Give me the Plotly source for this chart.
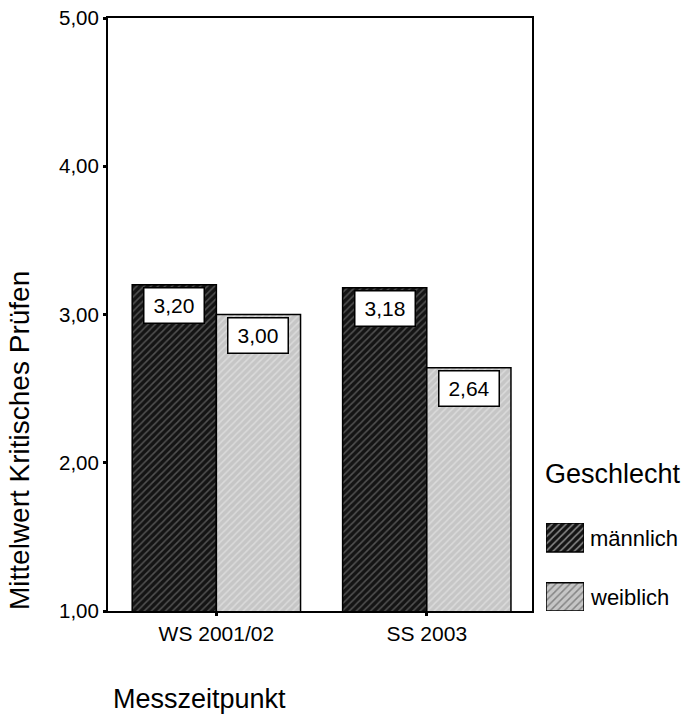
import plotly.graph_objects as go

# Mittelwerte "Kritisches Prüfen" nach Messzeitpunkt und Geschlecht
categories = ["WS 2001/02", "SS 2003"]
maennlich = [3.20, 3.18]
weiblich = [3.00, 2.64]
series_names = ["männlich", "weiblich"]
y_ticks = [1, 2, 3, 4, 5]

FONT = "Liberation Sans, Arial, Helvetica, sans-serif"
W, H = 686, 715
L, T, B = 108, 18, 104
PLOT_W = 424
PLOT_H = H - T - B
AREA_W = W - L


def px_x(p):
    return (p - L) / AREA_W


def px_y(p):
    return (T + PLOT_H - p) / PLOT_H


styles = {
    "männlich": dict(bg="#141414", fg="#8e8e8e"),
    "weiblich": dict(bg="#c6c6c6", fg="#efefef"),
}


def fmt(v):
    return f"{v:.2f}".replace(".", ",")


fig = go.Figure()

for name, vals in zip(series_names, [maennlich, weiblich]):
    st = styles[name]
    fig.add_trace(go.Bar(
        x=categories, y=vals, name=name,
        marker=dict(color=st["bg"], line=dict(color="black", width=1.5),
                    pattern=dict(shape="/", bgcolor=st["bg"], fgcolor=st["fg"],
                                 size=5, solidity=0.3)),
        showlegend=False, hoverinfo="skip",
    ))

# value boxes at the top of each bar
for s_idx, vals in enumerate([maennlich, weiblich]):
    offset = -0.2 if s_idx == 0 else 0.2
    for c_idx, v in enumerate(vals):
        fig.add_annotation(
            x=c_idx + offset, y=v, xref="x", yref="y",
            text=fmt(v), showarrow=False, yanchor="top", yshift=-2,
            font=dict(family=FONT, size=21, color="black"),
            bgcolor="white", bordercolor="black", borderwidth=1.5,
            borderpad=1, width=57, height=32,
        )

# legend swatches drawn as small bars in their own axes
fig.add_trace(go.Bar(
    x=[0.5, 0.5], y=[0.33, 0.32], base=[0.67, 0.0], width=[1, 1],
    xaxis="x2", yaxis="y2",
    marker=dict(color=[styles[n]["bg"] for n in series_names],
                line=dict(color="black", width=1.5),
                pattern=dict(shape="/", size=5, solidity=0.3,
                             bgcolor=[styles[n]["bg"] for n in series_names],
                             fgcolor=[styles[n]["fg"] for n in series_names])),
    showlegend=False, hoverinfo="skip",
))

fig.add_annotation(x=px_x(543), y=px_y(474), xref="paper", yref="paper",
                   text="Geschlecht", showarrow=False, xanchor="left", yanchor="middle",
                   font=dict(family=FONT, size=27, color="black"))
for lbl, yp in zip(series_names, [538, 597]):
    fig.add_annotation(x=px_x(588), y=px_y(yp), xref="paper", yref="paper",
                       text=lbl, showarrow=False, xanchor="left", yanchor="middle",
                       font=dict(family=FONT, size=22, color="black"))

# axis titles
fig.add_annotation(x=px_x(20), y=px_y(441), xref="paper", yref="paper",
                   text="Mittelwert Kritisches Prüfen", textangle=-90, showarrow=False,
                   xanchor="center", yanchor="middle",
                   font=dict(family=FONT, size=28, color="black"))
fig.add_annotation(x=px_x(111), y=px_y(699), xref="paper", yref="paper",
                   text="Messzeitpunkt", showarrow=False, xanchor="left", yanchor="middle",
                   font=dict(family=FONT, size=27, color="black"))

fig.update_layout(
    width=W, height=H,
    margin=dict(l=L, r=0, t=T, b=B, pad=0),
    paper_bgcolor="white", plot_bgcolor="white",
    separators=",.",
    barmode="group", bargap=0.2, bargroupgap=0,
    font=dict(family=FONT, color="black"),
    xaxis=dict(domain=[0, PLOT_W / AREA_W], range=[-0.515, 1.5],
               showline=True, mirror=True, linecolor="black", linewidth=2,
               ticks="outside", ticklen=3, tickwidth=3, tickcolor="black",
               showgrid=False, zeroline=False,
               tickfont=dict(family=FONT, size=21, color="black")),
    yaxis=dict(range=[1, 5], tickvals=y_ticks, tickformat=".2f",
               showline=True, mirror=True, linecolor="black", linewidth=2,
               ticks="outside", ticklen=3, tickwidth=3, tickcolor="black",
               showgrid=False, zeroline=False,
               tickfont=dict(family=FONT, size=20.5, color="black")),
    xaxis2=dict(domain=[px_x(546), px_x(584)], range=[0, 1], visible=False,
                anchor="y2", fixedrange=True),
    yaxis2=dict(domain=[0, px_y(523)], range=[0, 1], visible=False,
                anchor="x2", fixedrange=True),
)

fig.write_html("out.html")
